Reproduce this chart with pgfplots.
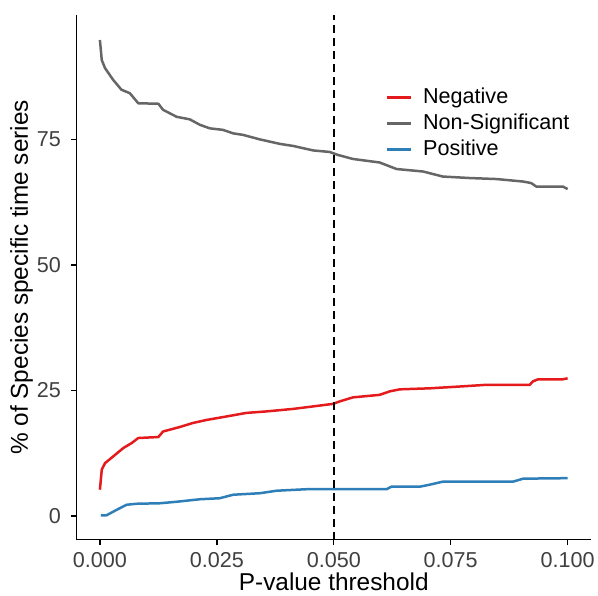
\documentclass[border=0pt]{standalone}
\usepackage{fontspec}
\setmainfont{Liberation Sans}
\usepackage{pgfplots}
\pgfplotsset{compat=1.18}

\definecolor{negred}{HTML}{E41A1C}
\definecolor{nsgrey}{HTML}{666666}
\definecolor{posblue}{HTML}{2E7EB8}

\begin{document}
\begin{tikzpicture}
\begin{axis}[
    name=ax,
    scale only axis,
    width=257.5pt,
    height=262.5pt,
    xmin=-0.005, xmax=0.105,
    ymin=-4.75, ymax=99.75,
    axis x line*=bottom,
    axis y line*=left,
    axis line style={line width=0.7pt},
    tick align=outside,
    major tick length=2.8pt,
    tick style={line width=0.7pt, black},
    xtick={0,0.025,0.05,0.075,0.1},
    xticklabels={0.000,0.025,0.050,0.075,0.100},
    ytick={0,25,50,75},
    /pgf/number format/assume math mode=true,
    ticklabel style={font=\fontsize{10.8}{12}\selectfont, text=black!75},
    yticklabel style={xshift=-1.5pt},
    xlabel={P-value threshold},
    ylabel={\% of Species specific time series},
    label style={font=\fontsize{12.2}{14}\selectfont},
    xlabel style={at={(axis description cs:0.5,0)}, anchor=center, yshift=-21pt},
    ylabel style={at={(axis description cs:0,0.5)}, anchor=center, yshift=27.5pt},
    legend style={at={(rel axis cs:0.6,0.869)}, anchor=north west, draw=none, fill=none,
        font=\fontsize{10.8}{12}\selectfont, row sep=-0.4pt, inner sep=0pt},
    legend cell align=left,
    legend image code/.code={\draw[#1, line width=1.3pt] (0pt,0pt) -- (12pt,0pt); \path (15.5pt,0pt);},
    every axis plot/.append style={line width=1.25pt, line join=round},
]
\addplot[negred] coordinates {
(0.0000,5.2) (0.0004,9.2) (0.0011,10.5) (0.0028,11.8) (0.0050,13.5) (0.0068,14.5)
(0.0082,15.5) (0.0125,15.7) (0.0135,16.8) (0.0171,17.7) (0.0199,18.5) (0.0228,19.1)
(0.0271,19.8) (0.0313,20.5) (0.0356,20.8) (0.0413,21.3) (0.0456,21.8) (0.0498,22.3)
(0.0513,22.8) (0.0541,23.6) (0.0598,24.1) (0.0620,24.8) (0.0641,25.2) (0.0705,25.4)
(0.0776,25.8) (0.0826,26.1) (0.0919,26.1) (0.0926,26.8) (0.0937,27.2) (0.0990,27.2)
(0.1000,27.4)
};
\addplot[nsgrey] coordinates {
(0.0000,94.8) (0.0004,90.8) (0.0011,89.2) (0.0028,86.9) (0.0046,84.9) (0.0064,84.2)
(0.0082,82.2) (0.0125,82.1) (0.0135,80.9) (0.0164,79.5) (0.0192,79.0) (0.0214,77.9)
(0.0235,77.2) (0.0263,76.9) (0.0285,76.2) (0.0306,75.9) (0.0342,75.0) (0.0385,74.1)
(0.0413,73.7) (0.0456,72.8) (0.0491,72.5) (0.0509,71.9) (0.0541,71.1) (0.0598,70.4)
(0.0634,69.1) (0.0691,68.6) (0.0733,67.6) (0.0791,67.3) (0.0848,67.1) (0.0905,66.6)
(0.0922,66.3) (0.0933,65.6) (0.0990,65.6) (0.1000,65.1)
};
\addplot[posblue] coordinates {
(0.0002,0.1) (0.0014,0.1) (0.0036,1.2) (0.0057,2.2) (0.0078,2.4) (0.0128,2.5)
(0.0164,2.8) (0.0214,3.3) (0.0256,3.5) (0.0285,4.2) (0.0342,4.5) (0.0378,5.0)
(0.0442,5.3) (0.0613,5.3) (0.0623,5.8) (0.0684,5.8) (0.0705,6.2) (0.0733,6.8)
(0.0883,6.8) (0.0905,7.4) (0.1000,7.5)
};
\addplot[black, line width=0.8pt, dash pattern=on 4pt off 2.5pt, forget plot]
    coordinates {(0.05,-4.75) (0.05,99.75)};
\legend{Negative, Non-Significant, Positive}
\end{axis}
\pgfresetboundingbox
\path ([shift={(-38.3pt,-28pt)}]ax.south west) rectangle ([shift={(3.5pt,7.6pt)}]ax.north east);
\end{tikzpicture}
\end{document}
